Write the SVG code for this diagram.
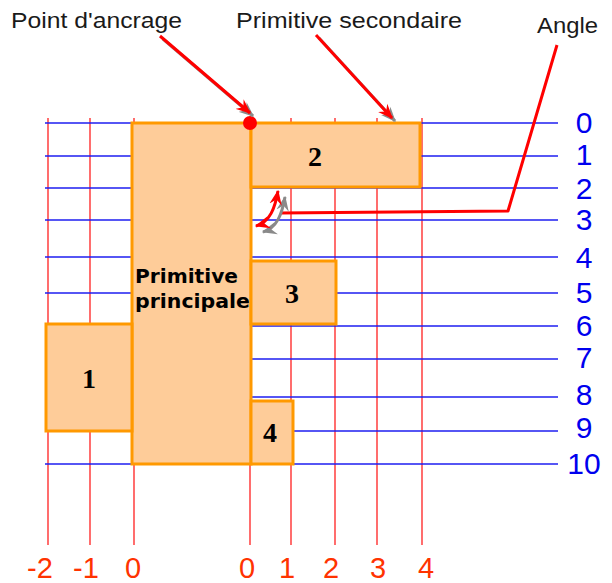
<svg xmlns="http://www.w3.org/2000/svg" width="612" height="583" viewBox="0 0 612 583">
<style>
.vl{stroke:#FF2020;stroke-width:1.3}
.hl{stroke:#1E1EF0;stroke-width:1.3}
.box{fill:#FECC99;stroke:#FF9900;stroke-width:3}
.num{font-family:"Liberation Serif",serif;font-weight:bold;font-size:28px;fill:#000;text-anchor:middle}
.top{font-family:"Liberation Sans",Arial,sans-serif;font-size:22px;fill:#1a1a1a}
.bx{font-family:"Liberation Sans",Arial,sans-serif;font-size:29px;fill:#FF3300;text-anchor:middle}
.by{font-family:"Liberation Sans",Arial,sans-serif;font-size:30px;fill:#0000EE;text-anchor:middle}
.arr{fill:none;stroke:#FF0000;stroke-width:3;stroke-linejoin:round}
.sh{fill:none;stroke:#8a8a8a;stroke-width:3;stroke-linejoin:round}
</style>
<defs>
<marker id="ah" viewBox="0 0 12 10" refX="11" refY="5" markerWidth="5" markerHeight="4.5" orient="auto" markerUnits="strokeWidth">
<path d="M0,0 L12,5 L0,10 L4,5 z" fill="#FF0000"/>
</marker>
<marker id="ahs" viewBox="0 0 12 10" refX="11" refY="5" markerWidth="5" markerHeight="4.5" orient="auto" markerUnits="strokeWidth">
<path d="M0,0 L12,5 L0,10 L4,5 z" fill="#8a8a8a"/>
</marker>
<marker id="ahb" viewBox="0 0 12 10" refX="1" refY="5" markerWidth="5" markerHeight="4.5" orient="auto" markerUnits="strokeWidth">
<path d="M12,0 L0,5 L12,10 L8,5 z" fill="#FF0000"/>
</marker>
<marker id="ahbs" viewBox="0 0 12 10" refX="1" refY="5" markerWidth="5" markerHeight="4.5" orient="auto" markerUnits="strokeWidth">
<path d="M12,0 L0,5 L12,10 L8,5 z" fill="#8a8a8a"/>
</marker>
</defs>
<rect width="612" height="583" fill="#fff"/>
<g id="grid">
<line class="vl" x1="48" y1="118" x2="48" y2="545"/>
<line class="vl" x1="90" y1="118" x2="90" y2="545"/>
<line class="vl" x1="134" y1="118" x2="134" y2="545"/>
<line class="vl" x1="250" y1="118" x2="250" y2="545"/>
<line class="vl" x1="291" y1="118" x2="291" y2="545"/>
<line class="vl" x1="335" y1="118" x2="335" y2="545"/>
<line class="vl" x1="377" y1="118" x2="377" y2="545"/>
<line class="vl" x1="422" y1="118" x2="422" y2="545"/>
<line class="hl" x1="45" y1="123" x2="558" y2="123"/>
<line class="hl" x1="45" y1="156" x2="558" y2="156"/>
<line class="hl" x1="45" y1="188" x2="558" y2="188"/>
<line class="hl" x1="45" y1="220" x2="558" y2="220"/>
<line class="hl" x1="45" y1="257" x2="558" y2="257"/>
<line class="hl" x1="45" y1="293" x2="558" y2="293"/>
<line class="hl" x1="45" y1="326" x2="558" y2="326"/>
<line class="hl" x1="45" y1="359" x2="558" y2="359"/>
<line class="hl" x1="45" y1="397" x2="558" y2="397"/>
<line class="hl" x1="45" y1="431" x2="558" y2="431"/>
<line class="hl" x1="45" y1="464" x2="558" y2="464"/>
</g>
<g id="axis-x">
<text class="bx" x="40" y="578">-2</text>
<text class="bx" x="86" y="578">-1</text>
<text class="bx" x="133" y="578">0</text>
<text class="bx" x="247" y="578">0</text>
<text class="bx" x="287" y="578">1</text>
<text class="bx" x="331" y="578">2</text>
<text class="bx" x="378" y="578">3</text>
<text class="bx" x="426" y="578">4</text>
</g>
<g id="axis-y">
<text class="by" x="584" y="133">0</text>
<text class="by" x="584" y="165">1</text>
<text class="by" x="584" y="199">2</text>
<text class="by" x="584" y="230">3</text>
<text class="by" x="584" y="268">4</text>
<text class="by" x="584" y="303">5</text>
<text class="by" x="584" y="336">6</text>
<text class="by" x="584" y="368">7</text>
<text class="by" x="584" y="405">8</text>
<text class="by" x="584" y="438">9</text>
<text class="by" x="584" y="474">10</text>
</g>
<g id="primitive-principale">
<rect class="box" x="132" y="123" width="119" height="341"/>
<text x="135" y="283" font-family="'DejaVu Sans',sans-serif" font-weight="bold" font-size="20" textLength="103" lengthAdjust="spacingAndGlyphs">Primitive</text>
<text x="135" y="308" font-family="'DejaVu Sans',sans-serif" font-weight="bold" font-size="20" textLength="115" lengthAdjust="spacingAndGlyphs">principale</text>
</g>
<g id="prim-2">
<rect class="box" x="251" y="123" width="169" height="64"/>
<text class="num" x="315" y="166">2</text>
</g>
<g id="prim-3">
<rect class="box" x="251" y="261" width="85" height="63"/>
<text class="num" x="292" y="303">3</text>
</g>
<g id="prim-1">
<rect class="box" x="46" y="324" width="86" height="107"/>
<text class="num" x="89" y="388">1</text>
</g>
<g id="prim-4">
<rect class="box" x="251" y="401" width="42" height="63"/>
<text class="num" x="270" y="442">4</text>
</g>
<g id="anchor-point">
<circle cx="250" cy="123" r="7" fill="#FF0000"/>
</g>
<g id="labels">
<text class="top" x="11" y="28" textLength="171" lengthAdjust="spacingAndGlyphs">Point d'ancrage</text>
<text class="top" x="236" y="28" textLength="226" lengthAdjust="spacingAndGlyphs">Primitive secondaire</text>
<text class="top" x="537" y="33" textLength="61" lengthAdjust="spacingAndGlyphs">Angle</text>
</g>
<g id="connectors">
<line class="sh" x1="163" y1="39" x2="253" y2="116" marker-end="url(#ahs)"/>
<line class="arr" x1="160" y1="36" x2="250" y2="113" marker-end="url(#ah)"/>
<line class="sh" x1="319" y1="38" x2="395" y2="121" marker-end="url(#ahs)"/>
<line class="arr" x1="316" y1="35" x2="392" y2="118" marker-end="url(#ah)"/>
<polyline class="arr" points="557,45 508,211 280,213"/>
<path class="sh" d="M263,232 C277,228 282,214 285,197" marker-start="url(#ahbs)" marker-end="url(#ahs)"/>
<path class="arr" d="M256,226 C270,222 275,208 278,191" marker-start="url(#ahb)" marker-end="url(#ah)"/>
</g>
</svg>
